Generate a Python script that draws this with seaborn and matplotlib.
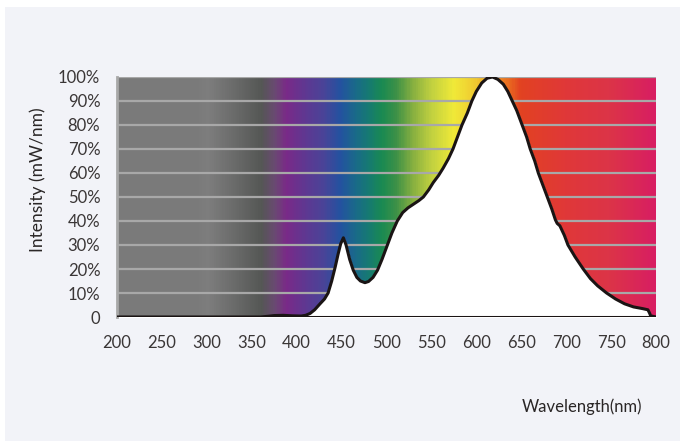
import numpy as np
import pandas as pd
import seaborn as sns
import matplotlib.pyplot as plt
from matplotlib.colors import LinearSegmentedColormap
from matplotlib.patches import Rectangle

# spectrum (nm, % of peak)
wavelength = [200, 360, 368, 375, 385, 395, 405, 410, 415, 420, 426, 431, 435, 439,
              443, 446, 449, 452, 455, 459, 463, 467, 471, 476, 480, 485, 490, 495,
              500, 506, 512, 518, 524, 530, 536, 541, 547, 552, 558, 563, 569, 574,
              579, 584, 590, 595, 600, 606, 612, 618, 624, 630, 635, 640, 645, 651,
              656, 660, 665, 669, 674, 679, 684, 688, 690, 693, 698, 702, 710, 719,
              727, 735, 745, 755, 765, 775, 785, 791, 793, 794, 800]
intensity = [0, 0, 0.3, 0.6, 0.7, 0.5, 0.4, 0.7, 1.5, 3.0, 5.5, 7.5, 10, 15,
             21, 26, 30.5, 33, 30, 24, 19.5, 16.5, 15, 14.3, 14.8, 16.5, 19.5, 24,
             29, 35, 40, 43.5, 45.5, 47, 48.5, 50, 53, 56, 59, 62, 66, 70,
             75, 80, 85, 90, 94, 97.5, 99.5, 100, 99, 97, 94, 90, 86, 80,
             75, 70, 65, 60, 55, 50, 45, 40.5, 39, 38, 34, 30, 25, 20,
             16, 13, 10, 7.5, 5.5, 4.2, 3.5, 3, 1.5, 0.5, 0]

xticks = [200, 250, 300, 350, 400, 450, 500, 550, 600, 650, 700, 750, 800]
yticks = [0, 10, 20, 30, 40, 50, 60, 70, 80, 90, 100]
ylabels = ["0"] + [f"{v}%" for v in yticks[1:]]

# background colour band
band_nm = [200, 290, 300, 330, 360, 375, 388, 410, 430, 448, 465, 480, 495, 510,
           530, 550, 575, 600, 615, 635, 650, 700, 750, 800]
band_col = ["#7a7a7a", "#7b7b7b", "#7e7e7e", "#6a6b6a", "#555755", "#6a4a72",
            "#7a2a88", "#5e3892", "#4a4498", "#2452a0", "#1a6a8a", "#167a72",
            "#1a8a52", "#3a9048", "#88b040", "#c0d040", "#f0ea38", "#f0c830",
            "#f0a022", "#ea7020", "#e24222", "#e03838", "#dc3448", "#d81e62"]

df = pd.DataFrame({"wavelength": wavelength, "intensity": intensity})

sns.set_style("white")
plt.rcParams["font.family"] = ["Lato", "DejaVu Sans"]

fig = plt.figure(figsize=(6.8, 4.41), dpi=100)
fig.patch.set_facecolor("white")
fig.patches.append(Rectangle((5 / 680, 0), 1, 1 - 7 / 441, transform=fig.transFigure,
                             facecolor="#f2f3f8", edgecolor="none", zorder=-10))
ax = fig.add_axes([117 / 680, 124 / 441, 539 / 680, 240 / 441])

pos = [(n - 200) / 600 for n in band_nm]
cmap = LinearSegmentedColormap.from_list("spec", list(zip(pos, band_col)))
grad = np.linspace(0, 1, 600).reshape(1, -1)
ax.imshow(grad, cmap=cmap, aspect="auto", extent=[200, 800, 0, 100], zorder=0)

for v in yticks[1:]:
    ax.axhline(v, color="#a8a8a8", lw=1.6, zorder=1)

ax.fill_between(df["wavelength"], df["intensity"], color="white", zorder=2)
sns.lineplot(data=df, x="wavelength", y="intensity", color="#1a1414", lw=2.2,
             ax=ax, zorder=3)
ax.plot([200, 800], [0, 0], color="#1a1414", lw=2.2, zorder=3, solid_capstyle="butt")

ax.set_xlim(200, 800)
ax.set_ylim(0, 100)
ax.set_xticks(xticks)
ax.set_yticks(yticks)
ax.set_yticklabels(ylabels)
ax.set_xlabel("")
ax.set_ylabel("")

for s in ["top", "right"]:
    ax.spines[s].set_visible(False)
ax.spines["bottom"].set_position(("outward", 2))
ax.spines["bottom"].set_visible(False)
ax.spines["left"].set_color("#a8a8a8")
ax.spines["left"].set_linewidth(2)
ax.tick_params(axis="y", direction="out", length=7, width=1.6, color="#a8a8a8",
               labelsize=12, labelcolor="#3a3636", pad=5)
ax.tick_params(axis="x", direction="out", length=6, width=1, color="#2a2626",
               labelsize=12, labelcolor="#3a3636", pad=5)

fig.text(38 / 680, 1 - 180 / 441, "Intensity (mW/nm)", fontsize=12.5, color="#2a2626",
         ha="center", va="center", rotation=90)
fig.text(582 / 680, 1 - 407 / 441, "Wavelength(nm)", fontsize=12, color="#2a2626",
         ha="center", va="center")

fig.savefig("out.png", dpi=100, facecolor=fig.get_facecolor())
